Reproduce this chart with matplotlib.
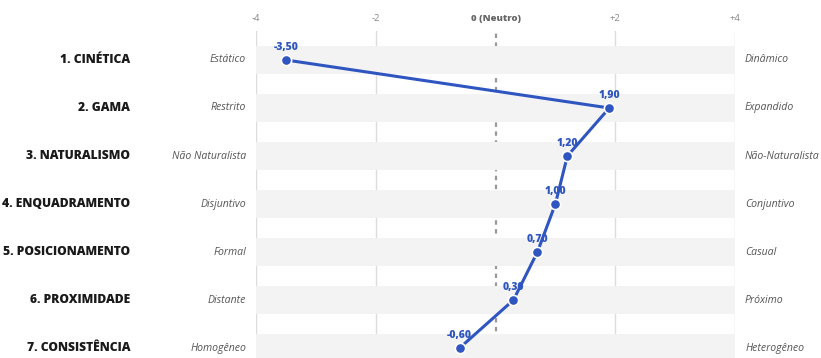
"""Perfil semântico: gráfico de pontos ligados com faixas por dimensão."""
import matplotlib
matplotlib.use("Agg")
import matplotlib.pyplot as plt

plt.rcParams["font.family"] = ["Open Sans", "DejaVu Sans"]

# dados
dimensoes = ["1. CINÉTICA", "2. GAMA", "3. NATURALISMO", "4. ENQUADRAMENTO",
             "5. POSICIONAMENTO", "6. PROXIMIDADE", "7. CONSISTÊNCIA"]
polo_esq = ["Estático", "Restrito", "Não Naturalista", "Disjuntivo",
            "Formal", "Distante", "Homogêneo"]
polo_dir = ["Dinâmico", "Expandido", "Não-Naturalista", "Conjuntivo",
            "Casual", "Próximo", "Heterogêneo"]
valores = [-3.50, 1.90, 1.20, 1.00, 0.70, 0.30, -0.60]
ticks = [-4, -2, 0, 2, 4]
tick_labels = ["-4", "-2", "0 (Neutro)", "+2", "+4"]

AZUL = "#2f55c0"

fig = plt.figure(figsize=(8.21, 3.58), dpi=100)
ax = fig.add_axes([256 / 821, 0, 479 / 821, 327 / 358])

linhas = list(range(len(dimensoes)))
ax.set_xlim(-4, 4)
ax.set_ylim(6.208, -0.604)

# grelha vertical e linha neutra
for t in ticks:
    if t == 0:
        ax.axvline(t, color="#999999", lw=1.6, ls=(0, (2, 2)), zorder=0)
    else:
        ax.axvline(t, color="#dddddd", lw=1.0, zorder=0)

# faixas por dimensão
for i in linhas:
    ax.axhspan(i - 0.3, i + 0.3, color="#f3f3f3", lw=0, zorder=1)

# linha + pontos
ax.plot(valores, linhas, color=AZUL, lw=2.2, zorder=3, solid_capstyle="round")
ax.scatter(valores, linhas, s=55, color=AZUL, edgecolor="white",
           linewidth=1.2, zorder=4)
for v, i in zip(valores, linhas):
    ax.annotate(f"{v:.2f}".replace(".", ","), xy=(v, i), xytext=(0, 5),
                textcoords="offset points", ha="center", va="bottom",
                fontsize=7.5, fontweight=800, color=AZUL, zorder=5)

# rótulos laterais
trans = ax.get_yaxis_transform()
for i in linhas:
    ax.text(-0.263, i, dimensoes[i], transform=trans, ha="right", va="center",
            fontsize=8.7, fontweight=800, color="#1a1a1a", clip_on=False)
    ax.text(-0.021, i, polo_esq[i], transform=trans, ha="right", va="center",
            fontsize=7.6, fontstyle="italic", color="#555555", clip_on=False)
    ax.text(1.021, i, polo_dir[i], transform=trans, ha="left", va="center",
            fontsize=7.6, fontstyle="italic", color="#555555", clip_on=False)

# eixo superior
ax.xaxis.tick_top()
ax.set_xticks(ticks)
ax.set_xticklabels(tick_labels)
ax.tick_params(axis="x", length=0, pad=5.5, labelsize=6.8, labelcolor="#888888")
for lbl in ax.get_xticklabels():
    if lbl.get_text().startswith("0"):
        lbl.set_fontweight(800)
        lbl.set_color("#666666")
ax.set_yticks([])
for s in ax.spines.values():
    s.set_visible(False)

fig.savefig("out.png", dpi=100, facecolor="white")
